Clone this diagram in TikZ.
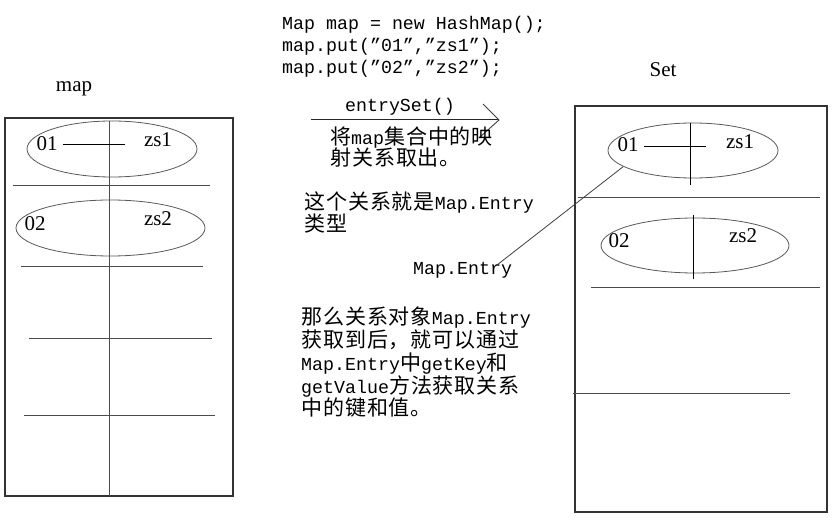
\documentclass[tikz,border=0pt]{standalone}
\usepackage{fontspec}
\setmainfont{Liberation Serif}
\newfontfamily\monofam{Liberation Mono}
\newfontfamily\cjkfam[LetterSpace=4.5]{Noto Sans CJK SC}
\newcommand\zh[1]{{\cjkfam\fontsize{21}{22}\selectfont #1}}
\usetikzlibrary{shapes.geometric}
\begin{document}
\begin{tikzpicture}[x=1pt,y=-1pt,
  box/.style={draw=black!80, line width=1.1pt},
  rule/.style={draw=black!70, line width=1pt},
  oval/.style={ellipse, draw=black!65, line width=0.8pt, inner sep=0pt},
  lbl/.style={font=\fontsize{21}{22}\selectfont, inner sep=0pt, text height=14pt, text depth=4pt},
  code/.style={font=\monofam\fontsize{18.3}{22}\selectfont, inner sep=0pt, anchor=west, text height=14pt, text depth=4pt}]
\useasboundingbox[fill=white] (0,0) rectangle (840,518);

% ---------- left: map ----------
\node[lbl] (maplbl) at (74,87) {map};
\node[box, draw, rectangle, minimum width=228pt, minimum height=378pt, inner sep=0pt] (mapbox) at (119,307) {};
\node[oval, minimum width=170pt, minimum height=56pt] (m1) at (112,149) {};
\node[oval, minimum width=189pt, minimum height=56pt] (m2) at (110.5,228) {};
\coordinate (mvt) at (109,121);
\coordinate (mvb) at (109,496);
\draw[rule] (mvt) -- (mvb);
\node[lbl] (m1k) at (47,146) {01};
\node[lbl] (m1v) at (158,142) {zs1};
\node[lbl] (m2k) at (35,226) {02};
\node[lbl] (m2v) at (158,221) {zs2};
\coordinate (m1c) at (125,145);
\draw[line width=1pt] (m1k.east) ++(5,-1) -- (m1c);
\coordinate (ml1a) at (13,186);  \coordinate (ml1b) at (210,186);
\coordinate (ml2a) at (21,267);  \coordinate (ml2b) at (203,267);
\coordinate (ml3a) at (29,338);  \coordinate (ml3b) at (212,338);
\coordinate (ml4a) at (24,415);  \coordinate (ml4b) at (215,415);
\draw[rule] (ml1a) -- (ml1b);
\draw[rule] (ml2a) -- (ml2b);
\draw[rule] (ml3a) -- (ml3b);
\draw[rule] (ml4a) -- (ml4b);

% ---------- middle: code and notes ----------
\node[code] (c1) at (282,25) {Map map = new HashMap();};
\node[code] (c2) at (282,47) {map.put(”01”,”zs1”);};
\node[code] (c3) at (282,69) {map.put(”02”,”zs2”);};

\node[code, anchor=center] (es) at (400,107) {entrySet()};
\coordinate (arA) at (311,120);
\coordinate (arB) at (499,120);
\draw[line width=1pt, black!85] (arA) -- (arB);
\draw[line width=0.9pt, black!75] (483,104) -- (arB) -- (480,137);

\node[code] (t1) at (330,140) {\zh{将}map\zh{集合中的映}};
\node[code] (t2) at (330,161) {\zh{射关系取出。}};

\node[code] (t3) at (304,205) {\zh{这个关系就是}Map.Entry};
\node[code] (t4) at (304,227) {\zh{类型}};

\node[code] (me) at (413,270) {Map.Entry};

\node[code] (p1) at (301,320) {\zh{那么关系对象}Map.Entry};
\node[code] (p2) at (301,342) {\zh{获取到后，就可以通过}};
\node[code] (p3) at (301,365) {Map.Entry\zh{中}getKey\zh{和}};
\node[code] (p4) at (301,388) {getValue\zh{方法获取关系}};
\node[code] (p5) at (301,410) {\zh{中的键和值。}};

% ---------- right: Set ----------
\node[lbl] (setlbl) at (663,72) {Set};
\node[box, draw, rectangle, minimum width=252pt, minimum height=406pt, inner sep=0pt] (setbox) at (701,309) {};
\node[oval, minimum width=170pt, minimum height=55pt] (s1) at (693,150.5) {};
\node[oval, minimum width=188pt, minimum height=55pt] (s2) at (695,245.5) {};
\node[lbl] (s1k) at (628,147) {01};
\node[lbl] (s1v) at (740,144) {zs1};
\node[lbl] (s2k) at (619,243) {02};
\node[lbl] (s2v) at (743,238) {zs2};
\coordinate (s1ht) at (706,147);
\draw[line width=1pt] (s1k.east) ++(5,0) -- (s1ht);
\coordinate (s1vt) at (690,123); \coordinate (s1vb) at (690,185);
\coordinate (s2vt) at (693,215); \coordinate (s2vb) at (693,279);
\draw[line width=1pt] (s1vt) -- (s1vb);
\draw[line width=1pt] (s2vt) -- (s2vb);
\coordinate (sl1a) at (578,198); \coordinate (sl1b) at (820,198);
\coordinate (sl2a) at (591,288); \coordinate (sl2b) at (820,288);
\coordinate (sl3a) at (573,393); \coordinate (sl3b) at (790,393);
\draw[rule] (sl1a) -- (sl1b);
\draw[rule] (sl2a) -- (sl2b);
\draw[rule] (sl3a) -- (sl3b);

% ---------- connector Map.Entry -> entry ----------
\coordinate (mefoot) at (497,265);
\draw[line width=0.8pt, black!75] (mefoot) -- (s1.193);
\end{tikzpicture}
\end{document}
